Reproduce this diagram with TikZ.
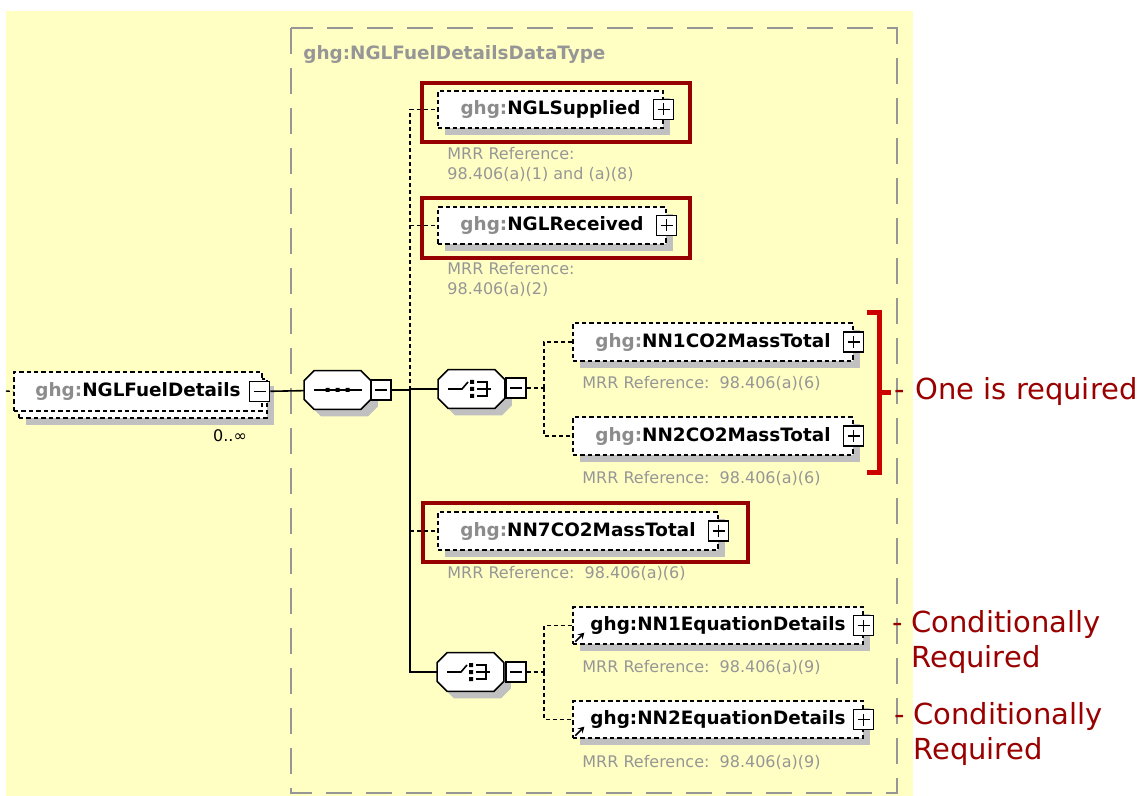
\documentclass[tikz,border=0pt]{standalone}
\usepackage{fontspec}
\setmainfont{DejaVu Sans}
\usetikzlibrary{shadows,arrows.meta}
\definecolor{bgyellow}{RGB}{255,255,196}
\definecolor{framegray}{RGB}{150,150,150}
\definecolor{prefixgray}{RGB}{140,140,140}
\definecolor{refgray}{RGB}{150,150,150}
\definecolor{shadowgray}{RGB}{192,192,192}
\definecolor{boxred}{RGB}{150,0,0}
\definecolor{bracketred}{RGB}{204,0,0}
\definecolor{notered}{RGB}{153,0,0}
% octagon outline round a compositor node
\newcommand\compositorshape[1]{%
  \filldraw[compline] ([xshift=5pt]#1.north west) -- ([xshift=-5pt]#1.north east)
    -- ([yshift=-5pt]#1.north east) -- ([yshift=5pt]#1.south east)
    -- ([xshift=-5pt]#1.south east) -- ([xshift=5pt]#1.south west)
    -- ([yshift=5pt]#1.south west) -- ([yshift=-5pt]#1.north west) -- cycle;}
\begin{document}
\begin{tikzpicture}[
              x=0.5pt, y=-0.5pt,
              boxshadow/.style={drop shadow={shadow xshift=3.5pt,shadow yshift=-3.5pt,fill=shadowgray,opacity=1}},
              elem/.style={draw,fill=white,line width=0.7pt,dash pattern=on 2.2pt off 1.5pt,inner sep=0pt,
                           minimum height=18.5pt,font=\fontsize{9.2}{11}\bfseries\selectfont},
              togglebox/.style={draw,fill=white,solid,line width=0.6pt,minimum size=10pt,inner sep=0pt},
              plusbox/.style={togglebox,path picture={\draw[line width=0.6pt]
                  ([xshift=2pt]path picture bounding box.west) -- ([xshift=-2pt]path picture bounding box.east)
                  ([yshift=-2pt]path picture bounding box.north) -- ([yshift=2pt]path picture bounding box.south);}},
              minusbox/.style={togglebox,path picture={\draw[line width=0.6pt]
                  ([xshift=2pt]path picture bounding box.west) -- ([xshift=-2pt]path picture bounding box.east);}},
              compositor/.style={inner sep=0pt,minimum width=33pt,minimum height=19pt},
              compline/.style={draw=black,fill=white,line width=0.8pt,boxshadow},
              icon/.style={line width=0.8pt},
              conn/.style={line width=0.8pt},
              optconn/.style={line width=0.7pt,dash pattern=on 2pt off 1.5pt},
              mrr/.style={text=refgray,font=\fontsize{8}{10}\selectfont,align=left,inner sep=0pt},
              hilite/.style={draw=boxred,line width=2pt},
              bracket/.style={draw=bracketred,line width=2.5pt},
              note/.style={text=notered,font=\fontsize{14.5}{17.5}\selectfont,align=left,inner sep=0pt}
            ]
            \useasboundingbox (0,0) rectangle (1141,796);
            \fill[bgyellow] (6,11) rectangle (913,796);

            % Complex type frame
            \draw[framegray,line width=1pt,dash pattern=on 13pt off 7pt] (291,28) rectangle (897,793);
            \node[anchor=west,inner sep=0pt,text=framegray,font=\fontsize{9.2}{11}\bfseries\selectfont]
                (typename) at (303,55) {ghg:NGLFuelDetailsDataType};

            % Element: NGLFuelDetails (0..unbounded)
            \node[elem,boxshadow,minimum width=124pt,minimum height=19.5pt] (fuelback) at (143,398.5) {};
            \node[elem,minimum width=124pt,minimum height=19.5pt] (fuel) at (138,391.5) {{\color{prefixgray}ghg:}NGLFuelDetails};
            \node[minusbox] (fuelminus) at ([xshift=-1.5pt]fuel.east) {};
            \node[font=\fontsize{8}{10}\selectfont,inner sep=0pt] (fuelocc) at (230,436) {0..∞};
            \coordinate (fuelin) at (6,391);
            \draw[optconn] (fuelin) -- (fuel.west);

            % Sequence
            \node[compositor] (seq) at (337.5,390) {};
            \compositorshape{seq}
            \node[minusbox] (seqminus) at (381,390) {};
            \begin{scope}[shift={(seq.center)}]
              \draw[icon] (-23.5,0) -- (24.5,0);
              \fill (-12,-2) rectangle (-8,2) (-2,-2) rectangle (2,2) (8,-2) rectangle (12,2);
            \end{scope}
            \draw[conn] (fuelminus) -- (seq);
            \coordinate (trunk) at (410,390);
            \draw[conn] (seqminus) -- (trunk);

            % Element: NGLSupplied
            \node[elem,boxshadow,minimum width=112.5pt] (supplied) at (550.5,109.5) {{\color{prefixgray}ghg:}NGLSupplied};
            \node[plusbox] (suppliedplus) at (supplied.east) {};
            \draw[hilite] (422,83) rectangle (690,142);
            \node[mrr,anchor=north west] (suppliedref) at (447,147) {MRR Reference:\\98.406(a)(1) and (a)(8)};

            % Element: NGLReceived
            \node[elem,boxshadow,minimum width=114pt] (received) at (552,225.5) {{\color{prefixgray}ghg:}NGLReceived};
            \node[plusbox] (receivedplus) at (received.east) {};
            \draw[hilite] (422,198) rectangle (690,258);
            \node[mrr,anchor=north west] (receivedref) at (447,262) {MRR Reference:\\98.406(a)(2)};

            \draw[optconn] (trunk) |- (supplied.west);
            \draw[optconn] (trunk |- received.west) -- (received.west);

            % Choice: NN1 / NN2 CO2 mass
            \node[compositor] (choiceA) at (471.5,389) {};
            \compositorshape{choiceA}
            \node[minusbox] (choiceAminus) at (516,388) {};
            \begin{scope}[shift={(choiceA.center)}]
              \draw[icon] (-23.5,0) -- (-9.5,0) -- (-3.5,-7);
              \fill (-1.5,-9) rectangle (2.5,-5) (-1.5,-2) rectangle (2.5,2) (-1.5,5) rectangle (2.5,9);
              \draw[icon] (5.5,-7) -- (15.5,-7) -- (15.5,7) -- (5.5,7) (5.5,0) -- (19.5,0);
            \end{scope}
            \draw[conn] (trunk) |- (choiceA.west);

            \node[elem,boxshadow,minimum width=140pt,minimum height=19pt] (nn1co2) at (713,342) {{\color{prefixgray}ghg:}NN1CO2MassTotal};
            \node[plusbox] (nn1co2plus) at (nn1co2.east) {};
            \node[mrr,anchor=west] (nn1co2ref) at (582,383) {MRR Reference:\ \ 98.406(a)(6)};
            \node[elem,boxshadow,minimum width=140pt,minimum height=19pt] (nn2co2) at (713,436) {{\color{prefixgray}ghg:}NN2CO2MassTotal};
            \node[plusbox] (nn2co2plus) at (nn2co2.east) {};
            \node[mrr,anchor=west] (nn2co2ref) at (582,478) {MRR Reference:\ \ 98.406(a)(6)};

            \coordinate (forkA) at (544,388);
            \draw[optconn] (choiceAminus) -- (forkA);
            \draw[optconn] (forkA) |- (nn1co2.west);
            \draw[optconn] (forkA) |- (nn2co2.west);

            % Note: one is required
            \draw[bracket] (867,313) -- (879,313) -- (879,473) -- (867,473);
            \draw[bracket] (879,393) -- (891,393);
            \node[note,anchor=west] (onenote) at (915,392) {\llap{-\hspace{5pt}}One is required};

            % Element: NN7CO2MassTotal
            \node[elem,boxshadow,minimum width=140pt,minimum height=19pt] (nn7) at (578,531) {{\color{prefixgray}ghg:}NN7CO2MassTotal};
            \node[plusbox] (nn7plus) at (nn7.east) {};
            \draw[hilite] (423,503) rectangle (748,562);
            \node[mrr,anchor=west] (nn7ref) at (447,573) {MRR Reference:\ \ 98.406(a)(6)};

            % Choice: NN1 / NN2 equation details
            \node[compositor] (choiceB) at (470.5,672) {};
            \compositorshape{choiceB}
            \node[minusbox] (choiceBminus) at (516,672) {};
            \begin{scope}[shift={(choiceB.center)}]
              \draw[icon] (-23.5,0) -- (-9.5,0) -- (-3.5,-7);
              \fill (-1.5,-9) rectangle (2.5,-5) (-1.5,-2) rectangle (2.5,2) (-1.5,5) rectangle (2.5,9);
              \draw[icon] (5.5,-7) -- (15.5,-7) -- (15.5,7) -- (5.5,7) (5.5,0) -- (19.5,0);
            \end{scope}
            \draw[conn] (trunk) |- (choiceB.west);
            \draw[optconn] (trunk |- nn7.west) -- (nn7.west);

            \node[elem,boxshadow,minimum width=145pt] (nn1eq) at (718,625.5) {ghg:NN1EquationDetails};
            \node[plusbox] (nn1eqplus) at (nn1eq.east) {};
            \draw[-{Stealth[length=3pt,width=3.5pt]},line width=0.8pt] ([shift={(3,-3)}]nn1eq.south west) -- ([shift={(12,-12)}]nn1eq.south west);
            \node[mrr,anchor=west] (nn1eqref) at (582,667) {MRR Reference:\ \ 98.406(a)(9)};
            \node[elem,boxshadow,minimum width=145pt] (nn2eq) at (718,719.5) {ghg:NN2EquationDetails};
            \node[plusbox] (nn2eqplus) at (nn2eq.east) {};
            \draw[-{Stealth[length=3pt,width=3.5pt]},line width=0.8pt] ([shift={(3,-3)}]nn2eq.south west) -- ([shift={(12,-12)}]nn2eq.south west);
            \node[mrr,anchor=west] (nn2eqref) at (582,762) {MRR Reference:\ \ 98.406(a)(9)};

            \coordinate (forkB) at (544,672);
            \draw[optconn] (choiceBminus) -- (forkB);
            \draw[optconn] (forkB) |- (nn1eq.west);
            \draw[optconn] (forkB) |- (nn2eq.west);

            % Notes: conditionally required
            \node[note,anchor=north west] (condnoteA) at (911,610) {\llap{-\hspace{4pt}}Conditionally\\Required};
            \node[note,anchor=north west] (condnoteB) at (913,702) {\llap{-\hspace{4pt}}Conditionally\\Required};

            \end{tikzpicture}
\end{document}
